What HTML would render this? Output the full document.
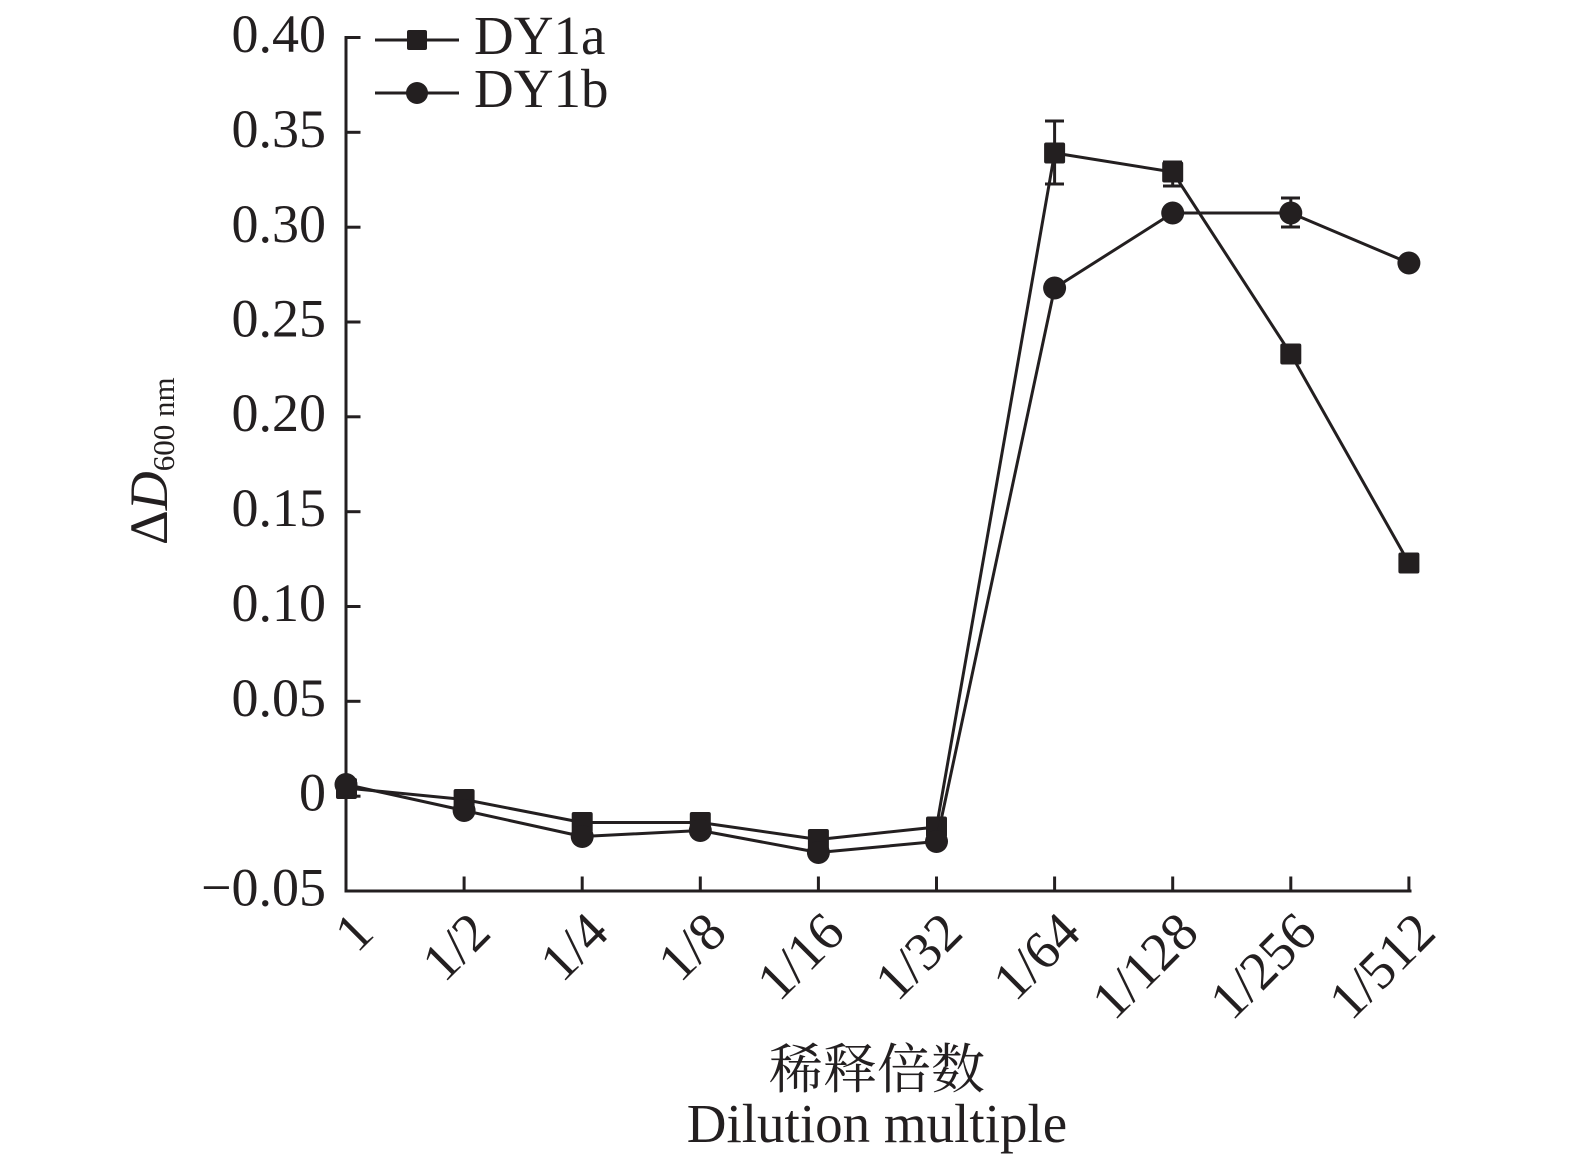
<!DOCTYPE html>
<html>
<head>
<meta charset="utf-8">
<style>
  html, body { margin: 0; padding: 0; background: #ffffff; }
  svg { display: block; }
  text { font-family: "Liberation Serif", "Noto Serif CJK SC", serif; fill: #231f20; }
</style>
</head>
<body>
<svg width="1575" height="1167" viewBox="0 0 1575 1167" xmlns="http://www.w3.org/2000/svg">
  <rect width="1575" height="1167" fill="#ffffff"/>

  <!-- Axes -->
  <g stroke="#231f20" stroke-width="3" fill="none" stroke-linecap="square">
    <line x1="346" y1="37.5" x2="346" y2="891"/>
    <line x1="346" y1="891" x2="1410" y2="891"/>
    <!-- y ticks -->
    <line x1="346" y1="37.5" x2="359" y2="37.5"/>
    <line x1="346" y1="132.3" x2="359" y2="132.3"/>
    <line x1="346" y1="227.2" x2="359" y2="227.2"/>
    <line x1="346" y1="322" x2="359" y2="322"/>
    <line x1="346" y1="416.8" x2="359" y2="416.8"/>
    <line x1="346" y1="511.7" x2="359" y2="511.7"/>
    <line x1="346" y1="606.5" x2="359" y2="606.5"/>
    <line x1="346" y1="701.3" x2="359" y2="701.3"/>
    <line x1="346" y1="796.2" x2="359" y2="796.2"/>
    <!-- x ticks -->
    <line x1="464.1" y1="891" x2="464.1" y2="878"/>
    <line x1="582.2" y1="891" x2="582.2" y2="878"/>
    <line x1="700.3" y1="891" x2="700.3" y2="878"/>
    <line x1="818.4" y1="891" x2="818.4" y2="878"/>
    <line x1="936.5" y1="891" x2="936.5" y2="878"/>
    <line x1="1054.6" y1="891" x2="1054.6" y2="878"/>
    <line x1="1172.7" y1="891" x2="1172.7" y2="878"/>
    <line x1="1290.8" y1="891" x2="1290.8" y2="878"/>
    <line x1="1408.9" y1="891" x2="1408.9" y2="878"/>
  </g>

  <!-- Y tick labels -->
  <g font-size="54" text-anchor="end">
    <text x="326" y="52">0.40</text>
    <text x="326" y="147">0.35</text>
    <text x="326" y="242">0.30</text>
    <text x="326" y="336.5">0.25</text>
    <text x="326" y="431">0.20</text>
    <text x="326" y="526">0.15</text>
    <text x="326" y="621">0.10</text>
    <text x="326" y="716">0.05</text>
    <text x="326" y="810.5">0</text>
    <text x="326" y="905.5">−0.05</text>
  </g>

  <!-- X tick labels -->
  <g font-size="54" text-anchor="end">
    <text transform="translate(376,935) rotate(-45)">1</text>
    <text transform="translate(493,935) rotate(-45)">1/2</text>
    <text transform="translate(611,935) rotate(-45)">1/4</text>
    <text transform="translate(729,935) rotate(-45)">1/8</text>
    <text transform="translate(847,935) rotate(-45)">1/16</text>
    <text transform="translate(965,935) rotate(-45)">1/32</text>
    <text transform="translate(1083,935) rotate(-45)">1/64</text>
    <text transform="translate(1201,935) rotate(-45)">1/128</text>
    <text transform="translate(1319,935) rotate(-45)">1/256</text>
    <text transform="translate(1438,935) rotate(-45)">1/512</text>
  </g>

  <!-- Axis titles -->
  <text transform="translate(167,545) rotate(-90)" font-size="54">Δ<tspan font-style="italic">D</tspan><tspan font-size="31" dy="7">600 nm</tspan></text>
  <text x="877" y="1088" font-size="54" text-anchor="middle" font-family="'Noto Serif CJK SC', 'Noto Sans CJK SC', serif">稀释倍数</text>
  <text x="877" y="1142" font-size="55" text-anchor="middle">Dilution multiple</text>

  <!-- Legend -->
  <g stroke="#231f20" stroke-width="3">
    <line x1="375" y1="40" x2="459" y2="40"/>
    <line x1="375" y1="93" x2="459" y2="93"/>
  </g>
  <rect x="407" y="30" width="20" height="20" rx="2" fill="#231f20"/>
  <circle cx="417" cy="93" r="11" fill="#231f20"/>
  <text x="474" y="54" font-size="55">DY1a</text>
  <text x="474" y="107" font-size="55">DY1b</text>

  <!-- Error bars -->
  <g stroke="#231f20" stroke-width="3">
    <line x1="1054.6" y1="121" x2="1054.6" y2="184"/>
    <line x1="1045" y1="121" x2="1064" y2="121"/>
    <line x1="1045" y1="184" x2="1064" y2="184"/>
    <line x1="1172.7" y1="162" x2="1172.7" y2="186"/>
    <line x1="1163" y1="162" x2="1182" y2="162"/>
    <line x1="1163" y1="186" x2="1182" y2="186"/>
    <line x1="1290.8" y1="198" x2="1290.8" y2="227"/>
    <line x1="1281" y1="198" x2="1300" y2="198"/>
    <line x1="1281" y1="227" x2="1300" y2="227"/>
  </g>

  <!-- DY1a series -->
  <polyline fill="none" stroke="#231f20" stroke-width="3" stroke-linejoin="round"
    points="346,788 464.1,799.5 582.2,822.5 700.3,822.5 818.4,839.5 936.5,827 1054.6,153 1172.7,172 1290.8,354 1408.9,563"/>
  <g fill="#231f20">
    <rect x="336" y="778" width="21" height="21" rx="2"/>
    <rect x="453.6" y="789" width="21" height="21" rx="2"/>
    <rect x="571.7" y="812" width="21" height="21" rx="2"/>
    <rect x="689.8" y="812" width="21" height="21" rx="2"/>
    <rect x="807.9" y="829" width="21" height="21" rx="2"/>
    <rect x="926" y="816.5" width="21" height="21" rx="2"/>
    <rect x="1044.1" y="142.5" width="21" height="21" rx="2"/>
    <rect x="1162.2" y="161.5" width="21" height="21" rx="2"/>
    <rect x="1280.3" y="343.5" width="21" height="21" rx="2"/>
    <rect x="1398.4" y="552.5" width="21" height="21" rx="2"/>
  </g>

  <!-- DY1b series -->
  <polyline fill="none" stroke="#231f20" stroke-width="3" stroke-linejoin="round"
    points="346,784.5 464.1,810.5 582.2,836.5 700.3,830.5 818.4,852.5 936.5,841.5 1054.6,288 1172.7,213 1290.8,213 1408.9,263"/>
  <g fill="#231f20">
    <circle cx="346" cy="784.5" r="11.5"/>
    <circle cx="464.1" cy="810.5" r="11.5"/>
    <circle cx="582.2" cy="836.5" r="11.5"/>
    <circle cx="700.3" cy="830.5" r="11.5"/>
    <circle cx="818.4" cy="852.5" r="11.5"/>
    <circle cx="936.5" cy="841.5" r="11.5"/>
    <circle cx="1054.6" cy="288" r="11.5"/>
    <circle cx="1172.7" cy="213" r="11.5"/>
    <circle cx="1290.8" cy="213" r="11.5"/>
    <circle cx="1408.9" cy="263" r="11.5"/>
  </g>
</svg>
</body>
</html>
